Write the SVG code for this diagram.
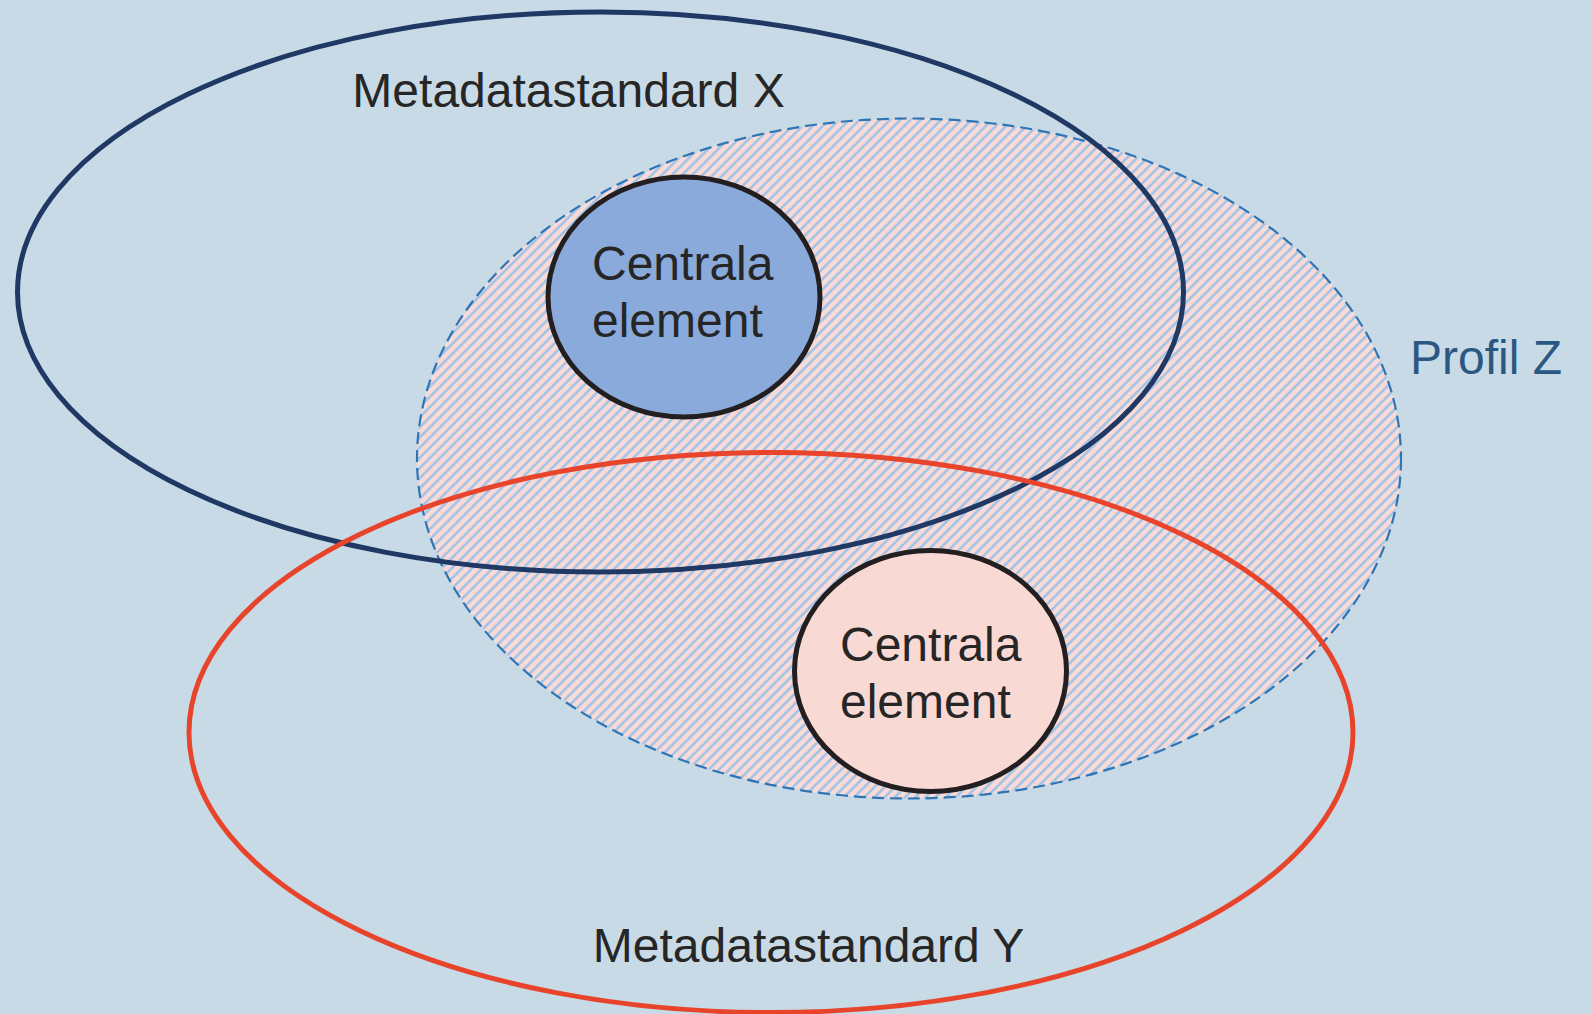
<svg xmlns="http://www.w3.org/2000/svg" width="1592" height="1014" viewBox="0 0 1592 1014">
<style>
.lbl{font-family:"Liberation Sans",Arial,sans-serif;font-size:48px;fill:#262626}
.prof{fill:#2B5783}
.core{stroke:#231F20;stroke-width:5}
</style>
<defs>
<pattern id="hatch" width="7.2" height="7.2" patternUnits="userSpaceOnUse" patternTransform="rotate(45)">
<rect width="7.2" height="7.2" fill="#F9DAD6"/>
<rect width="2.6" height="7.2" fill="#A3C4E6"/>
</pattern>
</defs>
<rect width="1592" height="1014" fill="#C8DAE5"/>
<g id="profil-z">
<ellipse cx="909" cy="458.5" rx="492" ry="340" fill="url(#hatch)" stroke="#2E75B6" stroke-width="2.2" stroke-dasharray="12 6"/>
<text class="lbl prof" x="1486" y="374" text-anchor="middle">Profil Z</text>
</g>
<g id="standard-x">
<ellipse cx="600.5" cy="292" rx="583" ry="280" fill="none" stroke="#1F3864" stroke-width="5"/>
<text class="lbl" x="568.5" y="107" text-anchor="middle">Metadatastandard X</text>
</g>
<g id="standard-y">
<ellipse cx="771" cy="732.5" rx="582" ry="280" fill="none" stroke="#E8442B" stroke-width="5"/>
<text class="lbl" x="808.5" y="962" text-anchor="middle">Metadatastandard Y</text>
</g>
<g id="core-x">
<ellipse class="core" cx="684" cy="297" rx="136" ry="120" fill="#8AAADB"/>
<text class="lbl" x="592" y="280">Centrala</text>
<text class="lbl" x="592" y="337">element</text>
</g>
<g id="core-y">
<ellipse class="core" cx="930.5" cy="671" rx="136" ry="120.5" fill="#F9D9D4"/>
<text class="lbl" x="840" y="661">Centrala</text>
<text class="lbl" x="840" y="718">element</text>
</g>
<g id="connectors"></g>
</svg>
